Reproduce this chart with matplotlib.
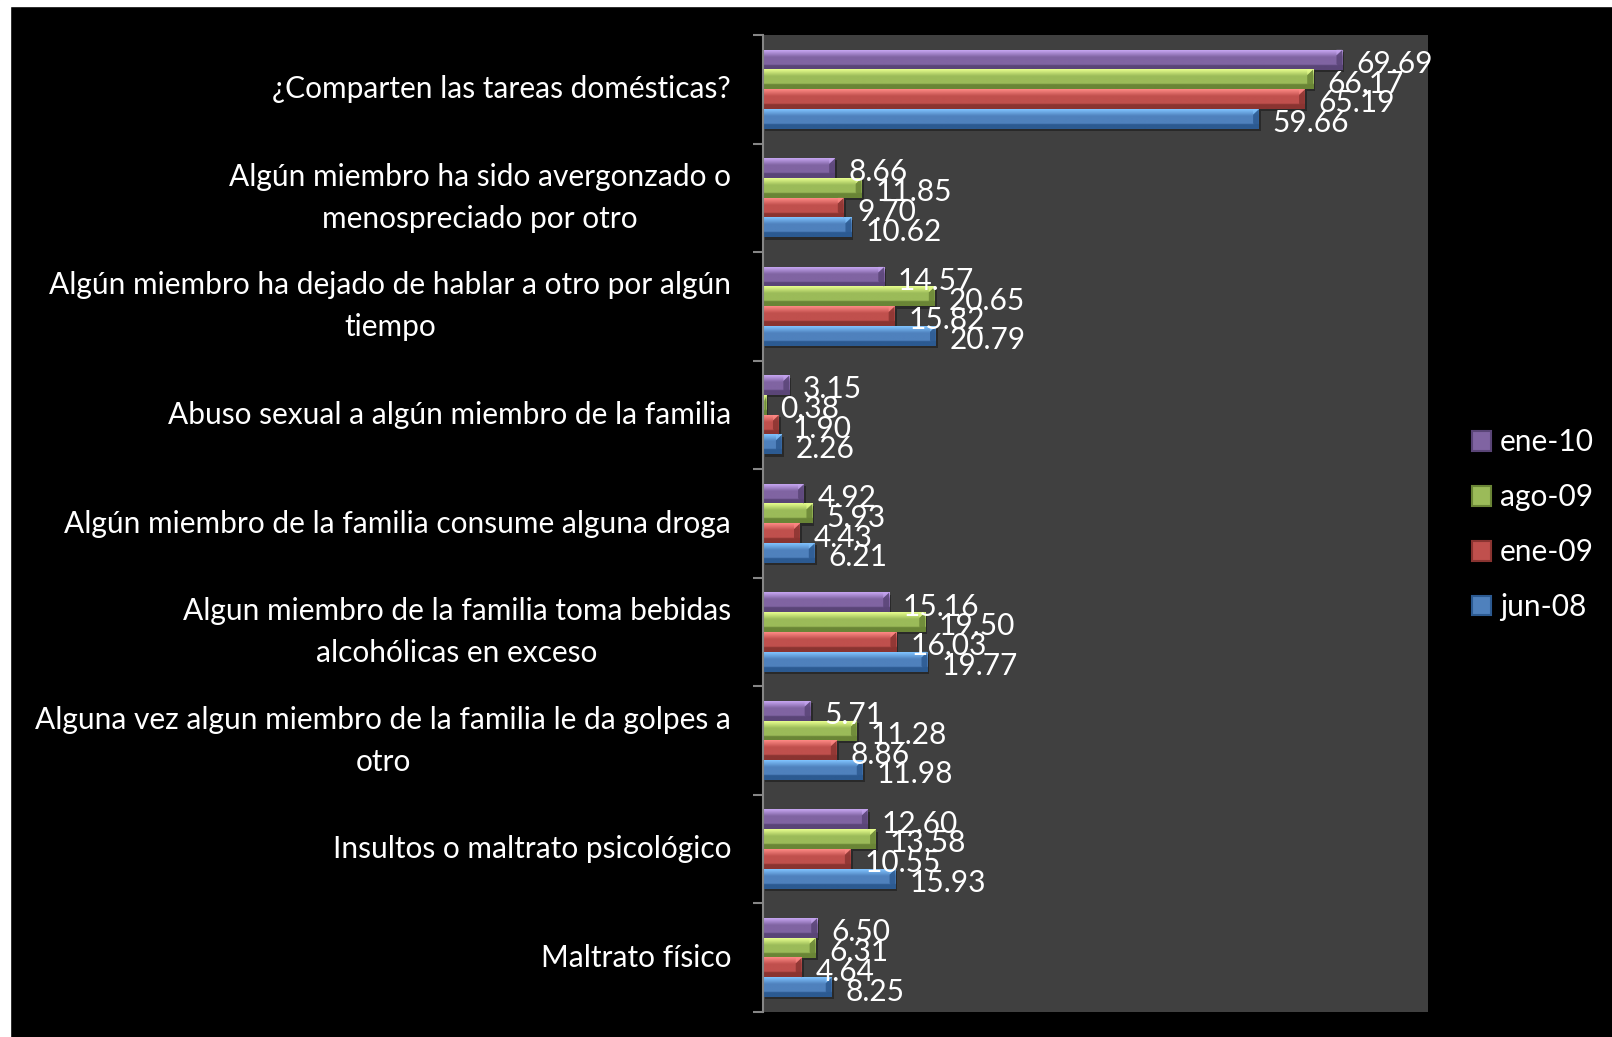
import matplotlib.pyplot as plt
import numpy as np
from matplotlib.colors import LinearSegmentedColormap
from matplotlib.patches import Polygon, Rectangle, Patch

categorias = [
    '¿Comparten las tareas domésticas?',
    'Algún miembro ha sido avergonzado o\nmenospreciado por otro',
    'Algún miembro ha dejado de hablar a otro por algún\ntiempo',
    'Abuso sexual a algún miembro de la familia',
    'Algún miembro de la familia consume alguna droga',
    'Algun miembro de la familia toma bebidas\nalcohólicas en exceso',
    'Alguna vez algun miembro de la familia le da golpes a\notro',
    'Insultos o maltrato psicológico',
    'Maltrato físico',
]
series = ['ene-10', 'ago-09', 'ene-09', 'jun-08']
ene_10 = [69.69, 8.66, 14.57, 3.15, 4.92, 15.16, 5.71, 12.60, 6.50]
ago_09 = [66.17, 11.85, 20.65, 0.38, 5.93, 19.50, 11.28, 13.58, 6.31]
ene_09 = [65.19, 9.70, 15.82, 1.90, 4.43, 16.03, 8.86, 10.55, 4.64]
jun_08 = [59.66, 10.62, 20.79, 2.26, 6.21, 19.77, 11.98, 15.93, 8.25]
valores = [ene_10, ago_09, ene_09, jun_08]

# light / mid / dark tones per series
tonos = [
    ('#c7a6f2', '#8064a2', '#5a4577'),
    ('#e8ff8e', '#9bbb59', '#6a8536'),
    ('#ff8a86', '#c0504d', '#8a3431'),
    ('#80c4ff', '#4f81bd', '#2c5a91'),
]

plt.rcParams['font.family'] = ['Lato', 'DejaVu Sans']
fs = 21.5
fig = plt.figure(figsize=(16.12, 10.37), dpi=100, facecolor='black')
ax = fig.add_axes([763 / 1612, 1 - 1012 / 1037, 665 / 1612, 977 / 1037])
ax.set_facecolor('#404040')

# white strips along top and left edge
fig.patches.append(Rectangle((0, 1 - 6 / 1037), 1, 6 / 1037, transform=fig.transFigure,
                             color='white', zorder=0))
fig.patches.append(Rectangle((0, 0), 10 / 1612, 1, transform=fig.transFigure,
                             color='white', zorder=0))

n = len(categorias)
alto = 0.182
y = np.arange(n)
bx = 0.7      # bevel width in data units
by = alto * 0.28

for i, (vals, (cl, cm, cd)) in enumerate(zip(valores, tonos)):
    cmap = LinearSegmentedColormap.from_list(
        'b%d' % i, [(0, cl), (0.35, cm), (0.72, cm), (0.78, cd), (1, cd)])
    grad = np.linspace(0, 1, 64).reshape(-1, 1)
    for j, v in enumerate(vals):
        c = y[j] + (i - 1.5) * alto
        top, bot = c - alto / 2, c + alto / 2
        # shadow
        ax.add_patch(Rectangle((0.25, top + 0.02), v, alto, color='black', alpha=0.35,
                               lw=0, zorder=1))
        ax.imshow(grad, cmap=cmap, aspect='auto', extent=[0, v, bot, top],
                  interpolation='bilinear', zorder=2)
        b = min(bx, v / 2)
        ax.add_patch(Polygon([(v, top), (v, bot), (v - b, bot - by), (v - b, top + by)],
                             closed=True, color=cd, alpha=0.85, lw=0, zorder=3))
        ax.add_patch(Polygon([(v - b, top), (v, top), (v - b, top + by)],
                             closed=True, color=cl, alpha=0.6, lw=0, zorder=3))
        ax.annotate('%.2f' % v, (v, c), xytext=(10, -3), textcoords='offset points',
                    color='white', fontsize=fs, va='center', ha='left', zorder=5)

ax.set_xlim(0, 80)
ax.set_ylim(n - 0.5, -0.5)
ax.set_xticks([])
ax.set_yticks(y)
ax.set_yticklabels(categorias, fontsize=fs, color='white', linespacing=1.6,
                   multialignment='center')
for lab in ax.get_yticklabels():
    lab.set_va('center')
ax.set_yticks(np.arange(-0.5, n, 1), minor=True)
ax.tick_params(axis='y', which='major', length=0, pad=23)
ax.tick_params(axis='y', which='minor', length=7, width=1.5, color='#868686')
for s in ['top', 'right', 'bottom']:
    ax.spines[s].set_visible(False)
ax.spines['left'].set_color('#868686')
ax.spines['left'].set_linewidth(1.5)

handles = [Patch(facecolor=t[1], edgecolor=t[2], lw=1.5) for t in tonos]
leg = fig.legend(handles, series, loc='center left', bbox_to_anchor=(1457 / 1612, 0.494),
                 frameon=False, fontsize=fs, labelcolor='white', handlelength=0.64,
                 handleheight=0.64, handletextpad=0.3, labelspacing=0.9, borderpad=0)

fig.savefig('out.png', dpi=100, facecolor='black')
